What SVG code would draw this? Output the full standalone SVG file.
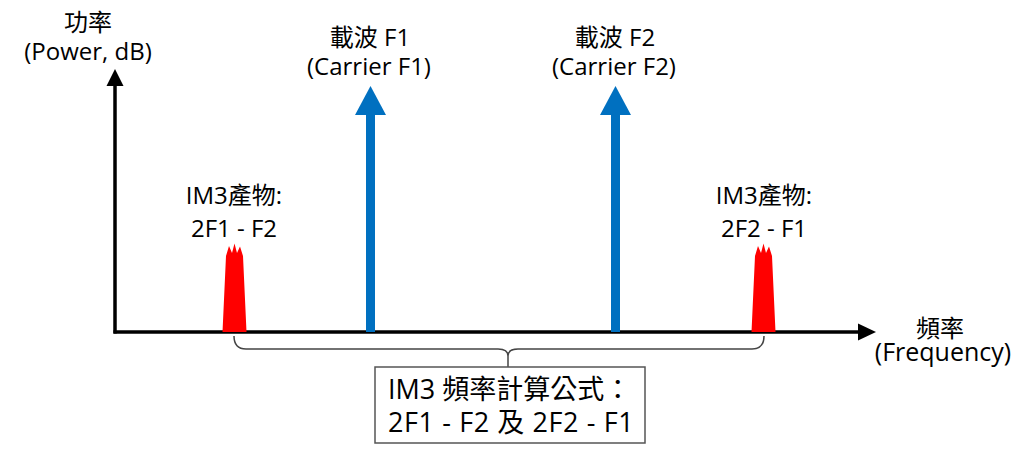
<svg xmlns="http://www.w3.org/2000/svg" width="1024" height="461" viewBox="0 0 1024 461">
<style>
text{font-family:"Open Sans","Noto Sans CJK TC",sans-serif;fill:#000;text-anchor:middle}
.l{font-size:24px}
.b{font-size:27px;text-anchor:start}
.axis{stroke:#000;stroke-width:3.5;fill:none}
.carrier{fill:#0070C0}
.im3{fill:#FF0000}
.brace{stroke:#444;stroke-width:1.5;fill:none}
</style>
<rect width="1024" height="461" fill="#fff"/>
<g id="connectors">
<line class="axis" x1="115" y1="333.5" x2="115" y2="84"/>
<polygon points="115,69 106.5,86 123.5,86" fill="#000"/>
<line class="axis" x1="113.5" y1="332" x2="860" y2="332"/>
<polygon points="876,332 858,323.5 858,340.5" fill="#000"/>
<path class="brace" d="M234,336 Q234,349 246,349 L498,349 Q508,349 508,356 Q508,349 518,349 L752,349 Q764,349 764,336 M508,356 L508,367"/>
</g>
<g id="y-axis-label">
<text class="l" x="88" y="31">功率</text>
<text class="l" x="88" y="60">(Power, dB)</text>
</g>
<g id="x-axis-label">
<text class="l" x="940" y="337">頻率</text>
<text class="l" x="943" y="361" style="font-size:25px">(Frequency)</text>
</g>
<g id="carrier-f1">
<rect class="carrier" x="366" y="112" width="9" height="220"/>
<polygon class="carrier" points="370.5,86 355,115 386,115"/>
<text class="l" x="370" y="46">載波 F1</text>
<text class="l" x="369" y="75">(Carrier F1)</text>
</g>
<g id="carrier-f2">
<rect class="carrier" x="611" y="112" width="9" height="220"/>
<polygon class="carrier" points="615.5,86 600,115 631,115"/>
<text class="l" x="615" y="46">載波 F2</text>
<text class="l" x="614" y="75">(Carrier F2)</text>
</g>
<g id="im3-low">
<path class="im3" d="M222.5,332 L226,256 L229,246 L232,253 L234.5,243.5 L237,253 L240,246.5 L243,256 L246.5,332 Z"/>
<text class="l" x="234" y="204">IM3產物:</text>
<text class="l" x="234" y="237">2F1 - F2</text>
</g>
<g id="im3-high">
<path class="im3" d="M751.5,332 L755,256 L758,246 L761,253 L763.5,243.5 L766,253 L769,246.5 L772,256 L775.5,332 Z"/>
<text class="l" x="764" y="204">IM3產物:</text>
<text class="l" x="764" y="237">2F2 - F1</text>
</g>
<g id="formula-box">
<rect x="375" y="367" width="270" height="76" fill="#fff" stroke="#555" stroke-width="1.5"/>
<text class="b" x="388" y="399">IM3 頻率計算公式：</text>
<text class="b" x="388" y="432" style="letter-spacing:0.6px">2F1 - F2 及 2F2 - F1</text>
</g>
</svg>
